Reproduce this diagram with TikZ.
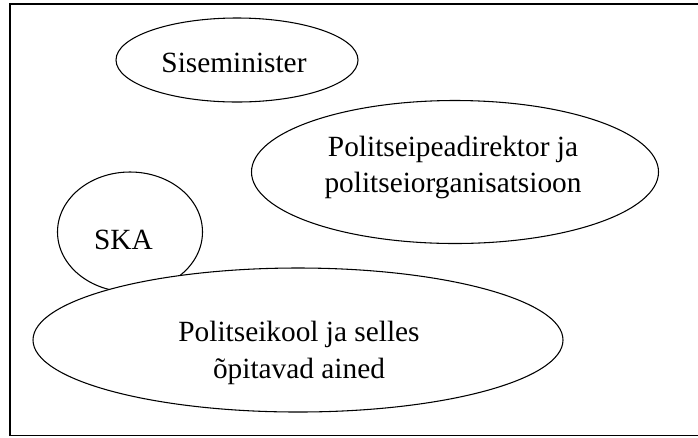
\documentclass[tikz,border=0pt]{standalone}
\usepackage{fontspec}
\setmainfont{Liberation Serif}
\usetikzlibrary{shapes.geometric}
\begin{document}
\begin{tikzpicture}[x=0.75pt,y=-0.75pt,
  oval/.style={ellipse,draw=black,line width=0.8pt,fill=white,inner sep=0pt},
  txt/.style={anchor=base,inner sep=0pt,font=\fontsize{22}{27}\selectfont},
  frame/.style={draw=black,line width=1pt}]
\useasboundingbox (0,0) rectangle (698,437);
\clip (0,0) rectangle (698,437);
\draw[frame] (10,4) rectangle (720,435.5);
\node[oval,minimum width=181.5pt,minimum height=63pt] (sise) at (237,60) {};
\node[txt] (siset) at (234,72) {Siseminister};
\node[oval,minimum width=305.25pt,minimum height=107.25pt] (pd) at (455,172) {};
\node[txt] (pdt1) at (453,156) {Politseipeadirektor ja};
\node[txt] (pdt2) at (453,192) {politseiorganisatsioon};
\node[oval,minimum width=108.75pt,minimum height=90pt] (ska) at (130,232) {};
\node[txt] (skat) at (123.5,249) {SKA};
\node[oval,minimum width=397.5pt,minimum height=108pt] (pk) at (298,340) {};
\node[txt] (pkt1) at (299,341) {Politseikool ja selles};
\node[txt] (pkt2) at (299,378) {õpitavad ained};
\end{tikzpicture}
\end{document}
